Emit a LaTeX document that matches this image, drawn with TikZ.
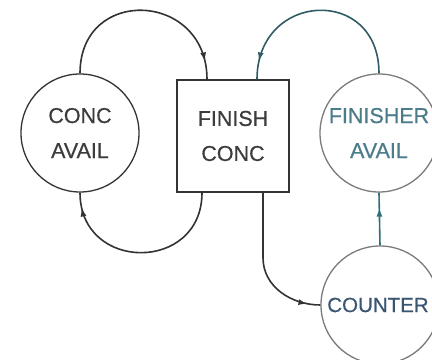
\documentclass[tikz,border=0pt]{standalone}
\usepackage{fontspec}
\setmainfont{Liberation Sans}
\newfontfamily\lblfont{Liberation Sans}[UprightFeatures={FakeBold=0.5}]
\usetikzlibrary{arrows.meta,decorations.markings}

\definecolor{ink}{HTML}{333333}
\definecolor{labelink}{HTML}{3C3C3C}
\definecolor{teal}{HTML}{2F6E7C}
\definecolor{tealtext}{HTML}{4A7C8A}
\definecolor{bluetext}{HTML}{3A5570}
\definecolor{lightrim}{HTML}{7A7A7A}

\tikzset{
  x=1bp, y=1bp,
  lbl/.style={font=\lblfont\fontsize{21.5bp}{35bp}\selectfont, align=center, text=labelink},
  place/.style={circle, draw=ink, line width=1.3bp, minimum size=118bp, inner sep=0pt, lbl},
  actbox/.style={rectangle, draw=ink, line width=1.4bp, minimum size=112bp, inner sep=0pt, lbl},
  flow/.style={line width=1.6bp, draw=ink},
  tipat/.style={postaction={decorate, decoration={markings,
      mark=at position #1 with {\arrow{Latex[length=9bp,width=6bp]}}}}}
}

\begin{document}
\begin{tikzpicture}
  \useasboundingbox (0,0) rectangle (432,360);

  % places and activity
  \node[place] (ca) at (80,227) {CONC\\AVAIL};
  \node[actbox] (fc) at (233,224) {FINISH\\CONC};
  \node[place, draw=lightrim, text=tealtext] (fa) at (379,227) {FINISHER\\AVAIL};
  \node[place, draw=lightrim] (co) at (380,55) {};
  \node[lbl, text=bluetext, font=\lblfont\fontsize{20.5bp}{35bp}\selectfont] (colbl) at ([xshift=-2bp]co.center) {COUNTER};

  % attachment points on the activity box
  \coordinate (fcinl) at ([xshift=-26bp]fc.north);
  \coordinate (fcinr) at ([xshift=24bp]fc.north);
  \coordinate (fcoutl) at ([xshift=-31bp]fc.south);
  \coordinate (fcoutr) at ([xshift=30bp]fc.south);

  % arcs into the activity
  \draw[flow, tipat=-18bp] (ca.north) .. controls +(0,88) and +(0,88) .. (fcinl);
  \draw[flow, draw=teal!70!ink, tipat=-18bp] (fa.north) .. controls +(0,88) and +(0,88) .. (fcinr);

  % arcs out of the activity
  \draw[flow, tipat=-15bp] (fcoutl) .. controls +(0,-80) and +(0,-80) .. (ca.south);
  \draw[flow, tipat=-13bp] (fcoutr) -- ++(0,-65) to[out=-90,in=180] (co.west);

  % counter back to finisher
  \draw[flow, draw=teal, tipat=-15bp] (co.north) -- (fa.south);
\end{tikzpicture}
\end{document}
